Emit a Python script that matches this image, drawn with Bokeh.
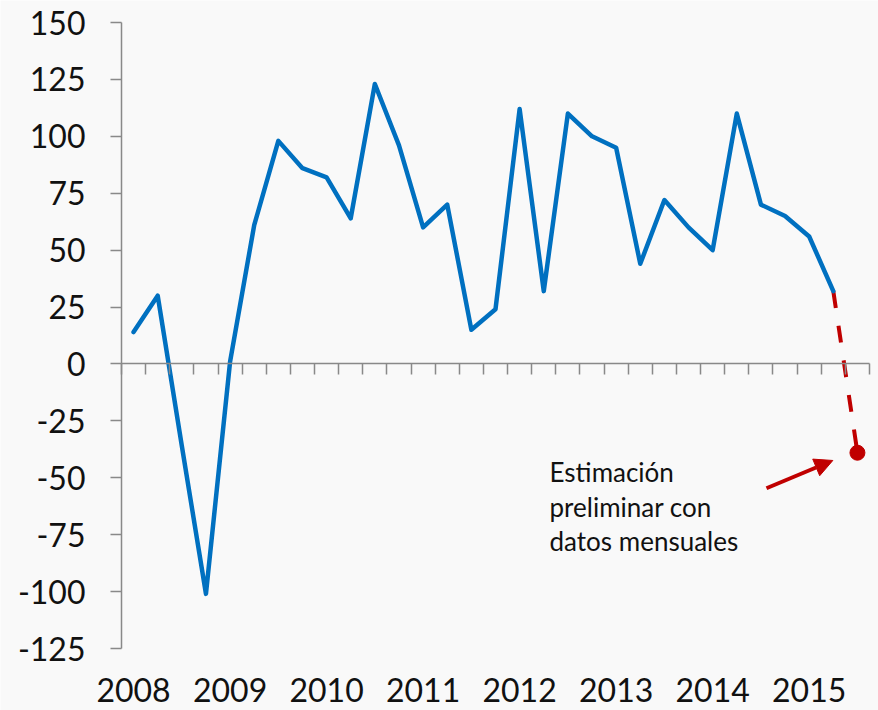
from bokeh.plotting import figure
from bokeh.models import (Range1d, LinearAxis, FixedTicker, CustomJSTickFormatter,
                          NormalHead, Arrow)
from bokeh.core.properties import value
from bokeh.embed import file_html
from bokeh.resources import INLINE

# ---- data (quarterly, 2008Q1 .. 2015Q2, plus preliminary 2015Q3 estimate) ----
years = ["2008", "2009", "2010", "2011", "2012", "2013", "2014", "2015"]
quarterly = [14, 30, -36, -101, 1, 61, 98, 86, 82, 64, 123, 96, 60, 70, 15,
             24, 112, 32, 110, 100, 95, 44, 72, 60, 50, 110, 70, 65, 56, 32]
estimate = -39
y_ticks = [-125, -100, -75, -50, -25, 0, 25, 50, 75, 100, 125, 150]
note_lines = ["Estimación", "preliminar con", "datos mensuales"]

n_q = len(quarterly) + 1          # 31 quarter slots
x_obs = [i + 0.5 for i in range(len(quarterly))]
x_est = [len(quarterly) - 0.5, len(quarterly) + 0.5]
y_est = [quarterly[-1], estimate]

BG = "#f9f9f9"
AXIS = "#898989"
FONT = "Lato"

# layout: the frame covers the whole canvas, axes are placed at fixed positions
W, H = 878, 710
AX_LEFT, AX_RIGHT = 121, 869      # pixel columns of the quarter axis ends
AX_TOP, AX_BOTTOM = 22, 648       # pixel rows of the 150 and -125 ticks
px_x = (AX_RIGHT - AX_LEFT) / n_q
px_y = (AX_BOTTOM - AX_TOP) / (y_ticks[-1] - y_ticks[0])
x_lo = -AX_LEFT / px_x
x_hi = n_q + (W - AX_RIGHT) / px_x
y_lo = y_ticks[0] - (H - AX_BOTTOM) / px_y
y_hi = y_ticks[-1] + AX_TOP / px_y

p = figure(width=W, height=H, output_backend="svg", toolbar_location=None,
           x_range=Range1d(x_lo, x_hi), y_range=Range1d(y_lo, y_hi),
           x_axis_location=None, y_axis_location=None,
           min_border_left=0, min_border_right=0, min_border_top=0,
           min_border_bottom=0)
p.background_fill_color = BG
p.border_fill_color = BG
p.outline_line_color = None
p.grid.visible = False

# y axis at x = 0
ya = LinearAxis(fixed_location=0,
                ticker=FixedTicker(ticks=y_ticks),
                major_label_overrides={t: str(t) for t in y_ticks},
                bounds=(y_ticks[0], y_ticks[-1]),
                axis_line_color=AXIS, axis_line_width=1.5,
                major_tick_line_color=AXIS, major_tick_line_width=1.5,
                major_tick_in=0, major_tick_out=11,
                minor_tick_line_color=None,
                major_label_standoff=25,
                major_label_text_font=FONT, major_label_text_font_size="32px",
                major_label_text_color="#111111")
p.add_layout(ya, "left")

# x axis line with quarter ticks, crossing at zero
xa0 = LinearAxis(fixed_location=0,
                 ticker=FixedTicker(ticks=list(range(n_q + 1))),
                 formatter=CustomJSTickFormatter(code="return ''"),
                 bounds=(0, n_q),
                 axis_line_color=AXIS, axis_line_width=1.5,
                 major_tick_line_color=AXIS, major_tick_line_width=1.5,
                 major_tick_in=0, major_tick_out=11,
                 minor_tick_line_color=None)
p.add_layout(xa0, "below")

# year labels at the bottom
year_pos = [4 * k + 0.5 for k in range(len(years))]
xa1 = LinearAxis(fixed_location=y_ticks[0],
                 ticker=FixedTicker(ticks=year_pos),
                 major_label_overrides={pos: yr for pos, yr in zip(year_pos, years)},
                 axis_line_color=None, major_tick_line_color=None,
                 minor_tick_line_color=None, major_tick_in=0, major_tick_out=0,
                 major_label_standoff=29,
                 major_label_text_font=FONT, major_label_text_font_size="32px",
                 major_label_text_color="#111111")
p.add_layout(xa1, "below")

# estimate (dashed red) then observed series (blue)
p.line(x_est, y_est, line_color="#c00000", line_width=4, line_dash="17 18")
p.line(x_obs, quarterly, line_color="#0070c0", line_width=4.5,
       line_join="round", line_cap="round")
p.scatter([x_est[-1]], [estimate], size=15, color="#c00000")

# annotation
note_x = 17.74
note_y0 = -47.5
note_step = 15.2
p.text(x=[note_x] * len(note_lines),
       y=[note_y0 - i * note_step for i in range(len(note_lines))],
       text=note_lines, text_font=value(FONT), text_font_size="26px",
       text_baseline="alphabetic", text_align="left", text_color="#111111")

p.add_layout(Arrow(x_start=26.73, y_start=-54.6, x_end=29.48, y_end=-42.4,
                   line_color="#c00000", line_width=4,
                   end=NormalHead(size=18, fill_color="#c00000",
                                  line_color="#c00000", line_width=1)))

open("out.html", "w").write(file_html(p, INLINE))
